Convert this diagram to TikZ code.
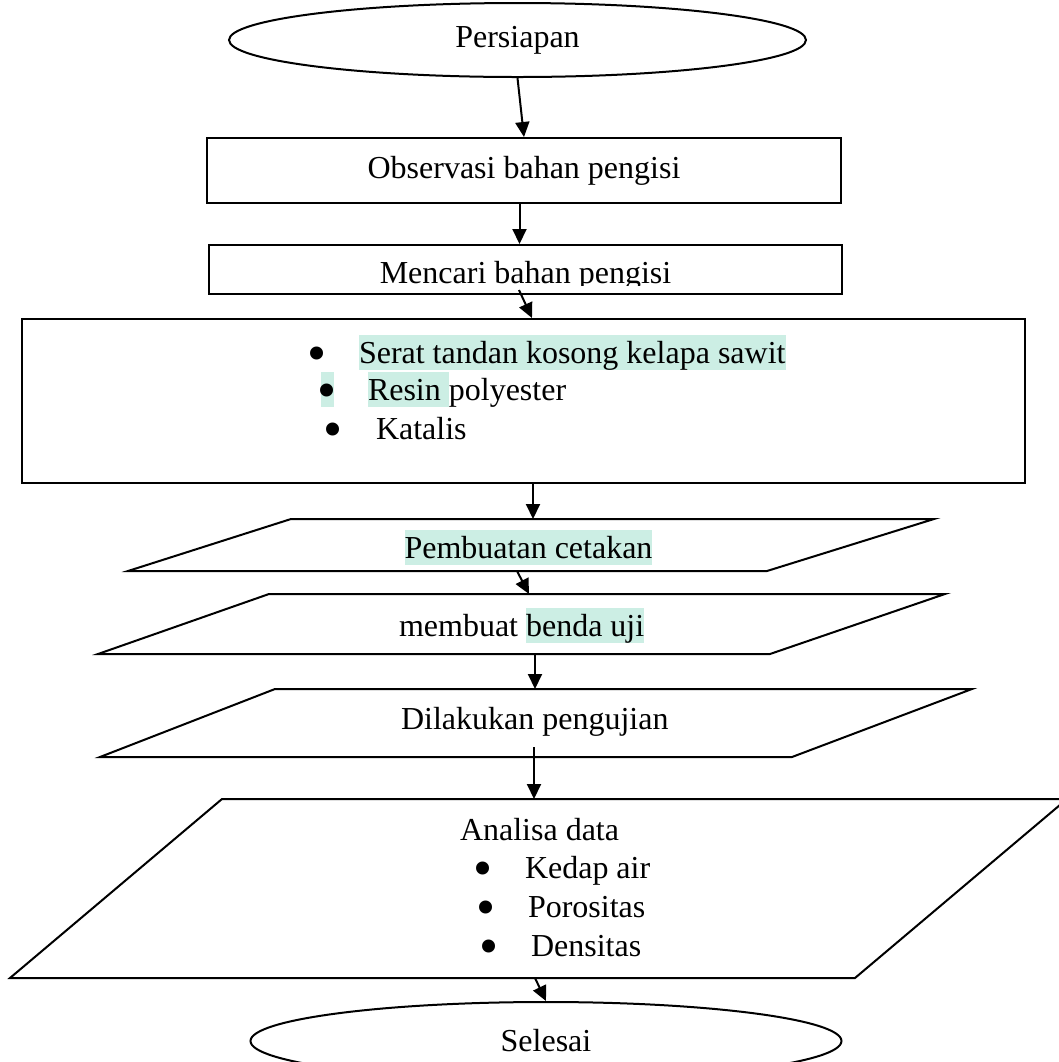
\documentclass[tikz,border=0pt]{standalone}
\usepackage{fontspec}
\usepackage{graphicx}
\setmainfont{Liberation Serif}
\usetikzlibrary{shapes.geometric,arrows.meta}
\definecolor{myMint}{HTML}{CCEEE4}
\newcommand{\hlt}[1]{{\setlength{\fboxsep}{0pt}\colorbox{myMint}{\rule[-0.216em]{0pt}{1.107em}#1}}}
\newcommand{\bul}[1]{\makebox[#1][c]{\raisebox{-4pt}[0pt][0pt]{\scalebox{1.7}{\textbullet}}}}

\begin{document}
\begin{tikzpicture}[x=0.5pt, y=-0.5pt, >={Triangle[length=7.5pt,width=7pt]}, line width=1pt, font=\fontsize{16}{19}\selectfont]
  \tikzstyle{E}=[ellipse, draw, inner sep=0pt]
  \tikzstyle{R}=[rectangle, draw, inner sep=0pt]
  \tikzstyle{T}=[anchor=base, inner sep=0pt]
  \tikzstyle{L}=[anchor=base west, inner sep=0pt]

  \useasboundingbox (0,0) rectangle (1059,1062);
  \clip (0,0) rectangle (1059,1062);

  \node[E, minimum width=288.5pt, minimum height=37pt] at (517.5,40) (persiapan) {Persiapan};
  \node[R, minimum width=317pt, minimum height=32.5pt] at (524,170.5) (observasi) {Observasi bahan pengisi};
  \node[R, minimum width=316.5pt, minimum height=24.5pt] at (525.5,269.5) (mencari) {};
  \begin{scope}
    \clip (209,245) rectangle (842,285);
    \node[T] at (525.5,283) (mencaritxt) {Mencari bahan pengisi};
  \end{scope}

  \node[R, minimum width=501.5pt, minimum height=82pt] at (523.5,401) (bahan) {};
  \node[L] at (305,363.5) (serat) {\bul{11pt}\hspace{15.5pt}\hlt{Serat tandan kosong kelapa sawit}};
  \node[L] at (319.5,400.5) (resin) {\hlt{\bul{6.5pt}}\hspace{17.25pt}\hlt{Resin }polyester};
  \node[L] at (321,439) (katalis) {\bul{11pt}\hspace{16pt}Katalis};

  % parallelograms
  \draw (291,519) -- (934,519) -- (767,571) -- (128,571) -- cycle;
  \node[T] at (528.5,558.5) (cetakan) {\hlt{Pembuatan cetakan}};
  \draw (269,594) -- (945,594) -- (770,654) -- (98,654) -- cycle;
  \node[L] at (398,636.5) (benda) {membuat \hlt{benda uji}};
  \draw (275,689) -- (972,689) -- (792,757) -- (100,757) -- cycle;
  \node[L] at (400,729) (pengujian) {Dilakukan pengujian};
  \draw (222,799) -- (1067,799) -- (855,978) -- (10,978) -- cycle;
  \node[L] at (459,840) (analisa) {Analisa data};
  \node[L] at (471,878) (kedap) {\bul{11pt}\hspace{15.5pt}Kedap air};
  \node[L] at (474,917) (porositas) {\bul{11pt}\hspace{15.5pt}Porositas};
  \node[L] at (477,956) (densitas) {\bul{11pt}\hspace{15.5pt}Densitas};

  \node[E, minimum width=295.5pt, minimum height=39pt] at (546,1041) (selesai) {Selesai};

  \coordinate (p1n) at (533,519);
  \coordinate (p1s) at (517,571);
  \coordinate (p2n) at (529,594);
  \coordinate (p2s) at (535,654);
  \coordinate (p3n) at (535,689);
  \coordinate (p3s) at (534,747);
  \coordinate (p4n) at (534,799);
  \coordinate (p4s) at (535,978);

  \draw [->] (persiapan.south) -- (observasi.north);
  \draw [->] ([xshift=-2.25pt]observasi.south) -- ([xshift=-3pt]mencari.north);
  \draw [->] ([xshift=-3.25pt,yshift=2.5pt]mencari.south) -- ([xshift=4.25pt]bahan.north);
  \draw [->] ([xshift=4.75pt]bahan.south) -- (p1n);
  \draw [->] (p1s) -- (p2n);
  \draw [->] (p2s) -- (p3n);
  \draw [->] (p3s) -- (p4n);
  \draw [->] (p4s) -- (selesai.north);

\end{tikzpicture}
\end{document}
